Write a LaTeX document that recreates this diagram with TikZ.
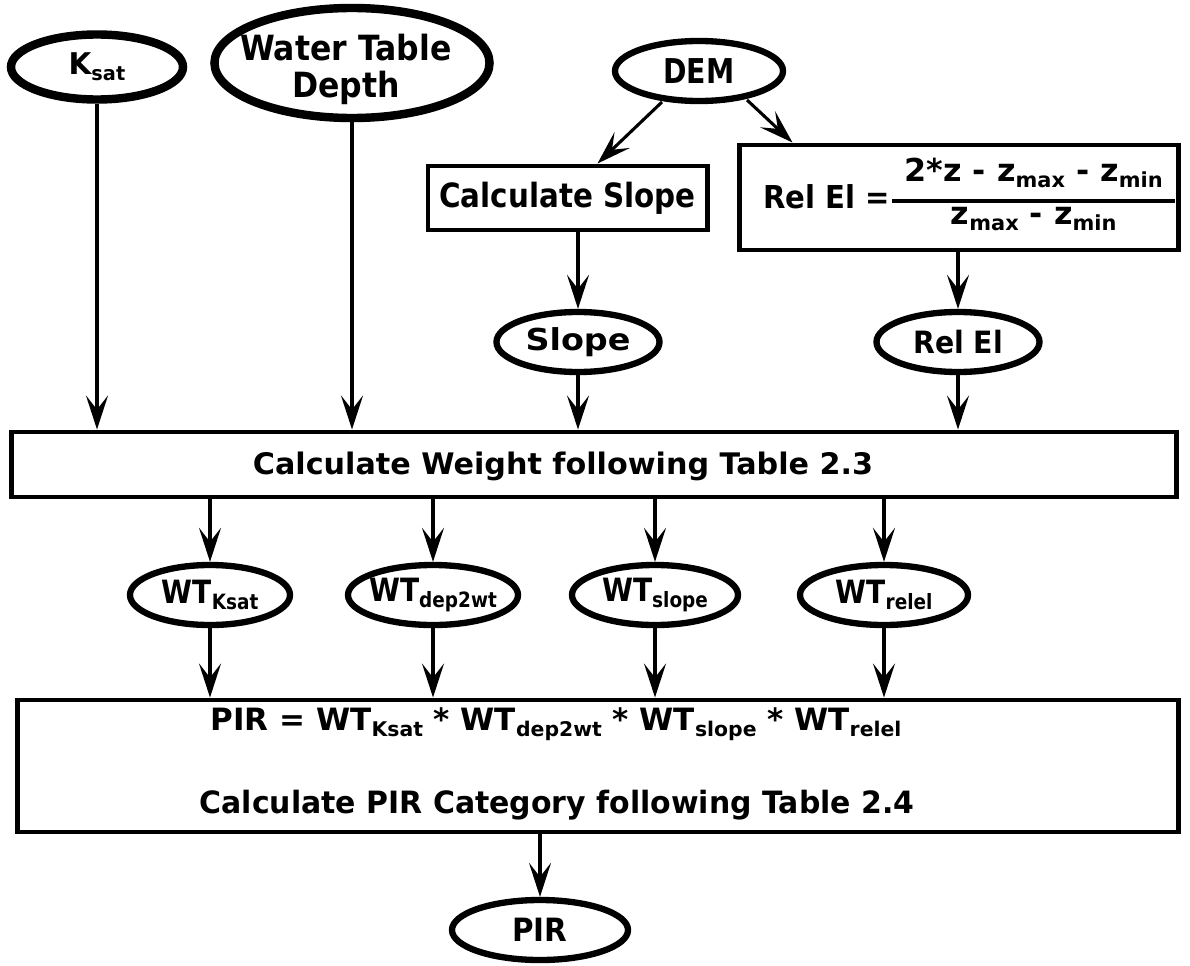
\documentclass[tikz,border=0pt]{standalone}
\usepackage{fontspec}
\usepackage{amsmath}
\usepackage{graphicx}
\setmainfont{DejaVu Sans}
\usetikzlibrary{shapes.geometric,arrows.meta,calc}
\newcommand\lo[1]{\raisebox{-0.35ex}{\fontsize{12.5pt}{13pt}\selectfont #1}}
\newcommand\fsz{\fontsize{19pt}{23pt}\selectfont\bfseries}
\newcommand\sbx[3]{\scalebox{#1}[#2]{#3}}
\begin{document}
\begin{tikzpicture}[x=0.025cm,y=-0.025cm,font=\fsz,
  ell/.style={ellipse,draw,line width=4.5pt,inner sep=0pt},
  box/.style={rectangle,draw,line width=3.5pt,inner sep=0pt},
  txt/.style={inner sep=0pt},
  arr/.style={line width=2.2pt,-{Stealth[length=0.85cm,width=0.55cm,inset=0.35cm]}}]
\useasboundingbox (0,0) rectangle (1190,966);

% top inputs
\node[ell,line width=6pt,minimum width=4.3cm,minimum height=1.625cm] (ksat) at (97,67) {\makebox[0pt]{\sbx{1.1}{1.12}{K\lo{sat}}}};
\node[ell,line width=6pt,minimum width=6.875cm,minimum height=2.75cm] (wtd) at (352,63) {};
\node[txt] (wtdtxt) at (346,71) {\sbx{1.18}{1.3}{\fontsize{19pt}{18.5pt}\selectfont\begin{tabular}{@{}c@{}}Water Table\\Depth\end{tabular}}};
\node[ell,minimum width=4.2cm,minimum height=1.5cm] (dem) at (699,71) {\makebox[0pt]{\sbx{1.06}{1.28}{DEM}}};

% processing boxes
\node[box,minimum width=6.975cm,minimum height=1.6cm] (cslope) at (567.5,198) {\sbx{1.1}{1.25}{Calculate Slope}};
\node[box,minimum width=10.95cm,minimum height=2.625cm] (relelbox) at (959,197.5) {};
\node[txt,anchor=base west] (relfx) at (763,208) {\sbx{1.09}{1.18}{Rel El =}\sbx{1.19}{1.18}{$\genfrac{}{}{2.4pt}{1}{\raisebox{0pt}[\height][\dimexpr\depth+4pt]{\makebox[5.95cm]{2*z - z\lo{max} - z\lo{min}}}}{\makebox{z\lo{max} - z\lo{min}}}$}};

% derived
\node[ell,minimum width=4.075cm,minimum height=1.5cm] (slope) at (578,342) {\makebox[0pt]{\sbx{1.25}{1.13}{Slope}}};
\node[ell,minimum width=4.075cm,minimum height=1.5cm] (relel) at (958,342) {\makebox[0pt]{\sbx{1.06}{1.15}{Rel El}}};

% weight box
\node[box,minimum width=29.1cm,minimum height=1.625cm] (weight) at (594,464.5) {};
\node[txt] (weighttxt) at (563,466) {\sbx{1.13}{1.11}{Calculate Weight following Table 2.3}};

% weights
\node[ell,minimum width=4.0cm,minimum height=1.5cm] (wt1) at (210,595) {\makebox[0pt]{\sbx{1.05}{1.2}{WT\lo{Ksat}}}};
\node[ell,minimum width=4.25cm,minimum height=1.5cm] (wt2) at (433,595) {\makebox[0pt]{\sbx{1.05}{1.2}{WT\lo{dep2wt}}}};
\node[ell,minimum width=4.15cm,minimum height=1.5cm] (wt3) at (655,595) {\makebox[0pt]{\sbx{1.05}{1.2}{WT\lo{slope}}}};
\node[ell,minimum width=4.2cm,minimum height=1.5cm] (wt4) at (884,595) {\makebox[0pt]{\sbx{1.05}{1.2}{WT\lo{relel}}}};

% PIR box
\node[box,minimum width=29cm,minimum height=3.3cm] (pirbox) at (598,766) {};
\node[txt] (pirtxt1) at (556,724) {\sbx{1.16}{1.15}{PIR = WT\lo{Ksat} * WT\lo{dep2wt} * WT\lo{slope} * WT\lo{relel}}};
\node[txt] (pirtxt2) at (557,805) {\sbx{1.12}{1.15}{Calculate PIR Category following Table 2.4}};

\node[ell,minimum width=4.4cm,minimum height=1.5cm] (pir) at (540,930) {\makebox[0pt]{\sbx{1.1}{1.2}{PIR}}};

% connectors
\draw[arr] ($(dem.center)+(-37,31)$) -- ($(cslope.north)+(30,0)$);
\draw[arr] ($(dem.center)+(48,29)$) -- ($(relelbox.north west)+(55,0)$);
\draw[arr] (slope.north |- cslope.south) -- (slope.north);
\draw[arr] (relel.north |- relelbox.south) -- (relel.north);
\draw[arr] (ksat.south) -- (ksat.south |- weight.north);
\draw[arr] (wtd.south) -- (wtd.south |- weight.north);
\draw[arr] (slope.south) -- (slope.south |- weight.north);
\draw[arr] (relel.south) -- (relel.south |- weight.north);
\foreach \w in {wt1,wt2,wt3,wt4}{
  \draw[arr] (\w.north |- weight.south) -- (\w.north);
  \draw[arr] (\w.south) -- (\w.south |- pirbox.north);
}
\draw[arr] (pir.north |- pirbox.south) -- (pir.north);
\end{tikzpicture}
\end{document}
